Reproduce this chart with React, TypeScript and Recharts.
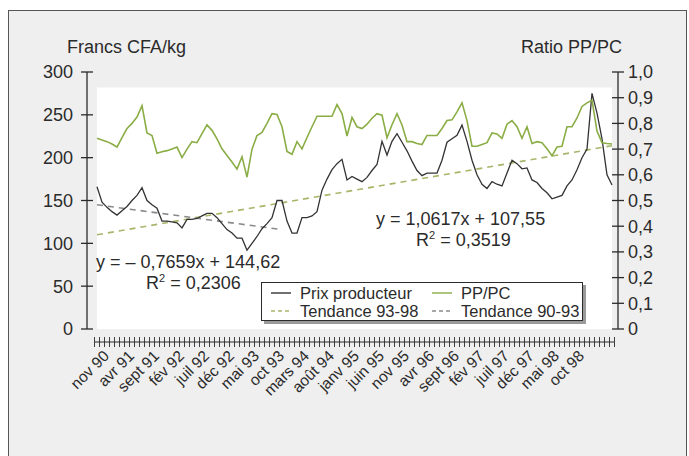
import { Legend, Line, LineChart, ReferenceArea, XAxis, YAxis } from "recharts";

const mois = [
  "nov 90", "déc 90",
  "janv 91", "fév 91", "mars 91", "avr 91", "mai 91", "juin 91", "juil 91", "août 91", "sept 91", "oct 91", "nov 91", "déc 91",
  "janv 92", "fév 92", "mars 92", "avr 92", "mai 92", "juin 92", "juil 92", "août 92", "sept 92", "oct 92", "nov 92", "déc 92",
  "janv 93", "fév 93", "mars 93", "avr 93", "mai 93", "juin 93", "juil 93", "août 93", "sept 93", "oct 93", "nov 93", "déc 93",
  "janv 94", "fév 94", "mars 94", "avr 94", "mai 94", "juin 94", "juil 94", "août 94", "sept 94", "oct 94", "nov 94", "déc 94",
  "janv 95", "fév 95", "mars 95", "avr 95", "mai 95", "juin 95", "juil 95", "août 95", "sept 95", "oct 95", "nov 95", "déc 95",
  "janv 96", "fév 96", "mars 96", "avr 96", "mai 96", "juin 96", "juil 96", "août 96", "sept 96", "oct 96", "nov 96", "déc 96",
  "janv 97", "fév 97", "mars 97", "avr 97", "mai 97", "juin 97", "juil 97", "août 97", "sept 97", "oct 97", "nov 97", "déc 97",
  "janv 98", "fév 98", "mars 98", "avr 98", "mai 98", "juin 98", "juil 98", "août 98", "sept 98", "oct 98", "nov 98", "déc 98",
  "janv 99", "fév 99", "mars 99", "avr 99", "mai 99", "juin 99",
];

// labels shown under the axis
const moisAffiches = [
  "nov 90", "avr 91", "sept 91", "fév 92", "juil 92", "déc 92", "mai 93", "oct 93", "mars 94", "août 94",
  "janv 95", "juin 95", "nov 95", "avr 96", "sept 96", "fév 97", "juil 97", "déc 97", "mai 98", "oct 98",
];

// Prix producteur, Francs CFA/kg
const prixProducteur = [
  166, 148, 142, 137, 133, 138, 143, 150, 156, 165,
  150, 145, 141, 126, 126, 125, 124, 118, 128, 128,
  129, 132, 135, 135, 130, 123, 116, 112, 106, 106,
  92, 100, 108, 117, 123, 130, 150, 150, 126, 112,
  112, 130, 130, 132, 137, 162, 175, 186, 193, 198,
  174, 178, 175, 172, 177, 185, 192, 219, 203, 219,
  228, 218, 208, 196, 185, 179, 182, 182, 182, 197,
  218, 222, 226, 238, 219, 197, 180, 169, 164, 172,
  169, 167, 182, 197, 193, 187, 188, 174, 171, 164,
  159, 152, 154, 156, 167, 174, 186, 200, 210, 275,
  252, 222, 180, 168,
];

// Ratio PP/PC
const ratioPPPC = [
  0.742, 0.735, 0.729, 0.72, 0.708, 0.745, 0.78, 0.8, 0.825, 0.869,
  0.763, 0.753, 0.684, 0.69, 0.694, 0.7, 0.708, 0.667, 0.7, 0.729,
  0.725, 0.76, 0.794, 0.773, 0.74, 0.701, 0.675, 0.65, 0.622, 0.67,
  0.591, 0.7, 0.753, 0.765, 0.8, 0.838, 0.835, 0.787, 0.691, 0.68,
  0.729, 0.701, 0.745, 0.787, 0.828, 0.828, 0.828, 0.828, 0.873, 0.838,
  0.751, 0.823, 0.787, 0.78, 0.797, 0.82, 0.838, 0.832, 0.744, 0.795,
  0.838, 0.794, 0.729, 0.729, 0.722, 0.718, 0.753, 0.753, 0.753, 0.78,
  0.811, 0.814, 0.845, 0.88, 0.811, 0.711, 0.711, 0.718, 0.725, 0.763,
  0.759, 0.742, 0.797, 0.811, 0.787, 0.742, 0.787, 0.722, 0.729, 0.725,
  0.701, 0.674, 0.708, 0.711, 0.787, 0.787, 0.821, 0.866, 0.88, 0.89,
  0.77, 0.725, 0.722, 0.72,
];

// trend lines: first and last month
const tendance9398Mois = ["nov 90", "juin 99"];
const tendance9398Valeurs = [110, 214];
const tendance9093Mois = ["nov 90", "déc 93"];
const tendance9093Valeurs = [145, 116];

const ticksGauche = [0, 50, 100, 150, 200, 250, 300];
const ticksDroite = [0, 0.1, 0.2, 0.3, 0.4, 0.5, 0.6, 0.7, 0.8, 0.9, 1];

const data = mois.map((m, i) => {
  const a = tendance9398Mois.indexOf(m);
  const b = tendance9093Mois.indexOf(m);
  return {
    mois: m,
    prix: prixProducteur[i],
    ratio: ratioPPPC[i],
    t9398: a >= 0 ? tendance9398Valeurs[a] : null,
    t9093: b >= 0 ? tendance9093Valeurs[b] : null,
  };
});

const FONT = "'Liberation Sans', Arial, Helvetica, sans-serif";
const INK = "#2b2b2b";
const STEP = 515 / (mois.length - 1);

const LeftTick = ({ x, y, payload }: any) => (
  <g>
    <line x1={x - 6} x2={x + 6} y1={y} y2={y} stroke={INK} strokeWidth={1.3} />
    <text x={x - 14} y={y} dy="0.36em" textAnchor="end" fontSize={18} fill={INK} fontFamily={FONT}>
      {payload.value}
    </text>
  </g>
);

const RightTick = ({ x, y, payload }: any) => (
  <g>
    <line x1={x - 6} x2={x + 6} y1={y} y2={y} stroke={INK} strokeWidth={1.3} />
    <text x={x + 10} y={y} dy="0.36em" textAnchor="start" fontSize={18} fill={INK} fontFamily={FONT}>
      {payload.value === 0 ? "0" : payload.value.toFixed(1).replace(".", ",")}
    </text>
  </g>
);

const BottomTick = ({ x, y, payload, index }: any) => {
  const row = y + 13;
  const h = STEP / 2;
  const ax = x + 13;
  const ay = row + 15;
  return (
    <g>
      <line x1={x - h} x2={x + h} y1={row} y2={row} stroke={INK} strokeWidth={1} />
      <line x1={x - h} x2={x - h} y1={row - 5} y2={row + 5} stroke={INK} strokeWidth={0.9} />
      {index === mois.length - 1 && <line x1={x + h} x2={x + h} y1={row - 5} y2={row + 5} stroke={INK} strokeWidth={0.9} />}
      {moisAffiches.includes(payload.value) && (
        <text x={ax} y={ay} textAnchor="end" fontSize={15.5} fill={INK} fontFamily={FONT} transform={`rotate(-45 ${ax} ${ay})`}>
          {payload.value}
        </text>
      )}
    </g>
  );
};

const ordreLegende = ["Prix producteur", "PP/PC", "Tendance 93-98", "Tendance 90-93"];

const LegendBox = ({ payload }: any) => {
  const items = ordreLegende.map((n) => payload.find((p: any) => p.value === n)).filter(Boolean);
  return (
    <div
      style={{
        width: 320,
        height: 37,
        background: "#fff",
        border: `1px solid ${INK}`,
        boxShadow: "3px 3px 0 #9a9a9a",
        fontFamily: FONT,
        fontSize: 16.5,
        color: INK,
        position: "relative",
      }}
    >
      {items.map((it: any, i: number) => {
        const col = i % 2;
        const rowY = i < 2 ? 10 : 28;
        const left = col === 0 ? 8 : 169;
        const dashed = it.payload && it.payload.strokeDasharray;
        return (
          <div key={it.value} style={{ position: "absolute", left, top: rowY - 10, height: 20, display: "flex", alignItems: "center" }}>
            <svg width={22} height={4} style={{ marginRight: 8 }}>
              <line x1={1} x2={21} y1={2} y2={2} stroke={it.color} strokeWidth={1.4} strokeDasharray={dashed ? "4 3" : undefined} />
            </svg>
            <span style={{ whiteSpace: "nowrap" }}>{it.value}</span>
          </div>
        );
      })}
    </div>
  );
};

const txt = (left: number, top: number, content: any) => (
  <div style={{ position: "absolute", left, top, fontFamily: FONT, fontSize: 18, color: INK, whiteSpace: "nowrap", lineHeight: "20px" }}>
    {content}
  </div>
);

const r2 = (v: string) => (
  <span>
    R<sup style={{ fontSize: 11, verticalAlign: 0, position: "relative", top: -7 }}>2</sup> = {v}
  </span>
);

export default function App() {
  return (
    <div style={{ position: "absolute", left: 0, top: 0, width: 689, height: 456, background: "#fff", overflow: "hidden" }}>
      <div
        style={{
          position: "absolute",
          left: 8,
          top: 10,
          width: 677,
          height: 460,
          background: "#efefef",
          borderLeft: "1.5px solid #555",
          borderTop: "1.5px solid #555",
          borderRight: "1.5px solid #555",
        }}
      />
      {txt(67, 37, "Francs CFA/kg")}
      {txt(521, 37, "Ratio PP/PC")}
      <div style={{ position: "absolute", left: 0, top: 0 }}>
        <LineChart width={689} height={456} data={data} margin={{ top: 72, right: 0, bottom: 0, left: 0 }}>
          <XAxis
            dataKey="mois"
            interval={0}
            padding={{ left: 10, right: 6 }}
            height={127}
            axisLine={false}
            tickLine={false}
            tickSize={0}
            tickMargin={0}
            tick={<BottomTick />}
          />
          <YAxis
            yAxisId="left"
            orientation="left"
            width={87}
            domain={[0, 300]}
            ticks={ticksGauche}
            interval={0}
            axisLine={{ stroke: INK, strokeWidth: 1.3 }}
            tickLine={false}
            tickSize={0}
            tickMargin={0}
            tick={<LeftTick />}
          />
          <YAxis
            yAxisId="right"
            orientation="right"
            width={71}
            domain={[0, 1]}
            ticks={ticksDroite}
            interval={0}
            axisLine={{ stroke: INK, strokeWidth: 1.3 }}
            tickLine={false}
            tickSize={0}
            tickMargin={0}
            tick={<RightTick />}
          />
          <ReferenceArea
            yAxisId="left"
            x1={mois[0]}
            x2={mois[mois.length - 1]}
            y1={0}
            y2={282}
            fill="#ffffff"
            fillOpacity={1}
            stroke="none"
            ifOverflow="visible"
          />
          <Line
            yAxisId="left"
            dataKey="t9398"
            name="Tendance 93-98"
            stroke="#a6b66a"
            strokeWidth={1.6}
            strokeDasharray="6 5"
            connectNulls
            dot={false}
            isAnimationActive={false}
          />
          <Line
            yAxisId="left"
            dataKey="t9093"
            name="Tendance 90-93"
            stroke="#8a8a8a"
            strokeWidth={1.6}
            strokeDasharray="6 5"
            connectNulls
            dot={false}
            isAnimationActive={false}
          />
          <Line
            yAxisId="left"
            dataKey="prix"
            name="Prix producteur"
            stroke="#333333"
            strokeWidth={1.3}
            dot={false}
            isAnimationActive={false}
          />
          <Line
            yAxisId="right"
            dataKey="ratio"
            name="PP/PC"
            stroke="#8aad45"
            strokeWidth={1.6}
            dot={false}
            isAnimationActive={false}
          />
          <Legend
            verticalAlign="middle"
            align="center"
            content={<LegendBox />}
            wrapperStyle={{ position: "absolute", left: 261, top: 282, width: 324, height: 40 }}
          />
        </LineChart>
      </div>
      {txt(96, 252, "y = – 0,7659x + 144,62")}
      {txt(146, 273, r2("0,2306"))}
      {txt(376, 209, "y = 1,0617x + 107,55")}
      {txt(416, 230, r2("0,3519"))}
    </div>
  );
}
